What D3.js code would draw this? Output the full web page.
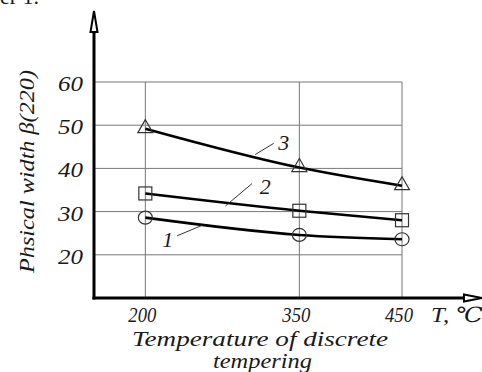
<!DOCTYPE html>
<html>
<head>
<meta charset="utf-8">
<script src="https://cdn.jsdelivr.net/npm/d3@7"></script>
<style>
  body { margin: 0; background: #fff; }
  svg { display: block; }
  svg text { font-family: "Liberation Serif", "DejaVu Serif", serif; font-style: italic; fill: #1a1a1a; }
  .grid line { stroke: #777; stroke-width: 1; }
  .tick-label { font-size: 21px; }
</style>
</head>
<body>
<div id="chart"></div>
<script>
// data
var temps = [200, 350, 450];
var curve1 = [28.6, 24.6, 23.6];   // circles
var curve2 = [34.2, 30.2, 28.0];   // squares
var curve3 = [49.2, 40.2, 36.0];   // triangles
var yTicks = [20, 30, 40, 50, 60];
var seriesNames = ["1", "2", "3"];
var markerTypes = ["circle", "square", "triangle"];

var width = 482, height = 372;

var x = d3.scaleLinear().domain([150, 450]).range([94, 402]);
var y = d3.scaleLinear().domain([10, 60]).range([298, 82]);

var svg = d3.select("#chart").append("svg")
    .attr("width", width)
    .attr("height", height);

// stretch a text to a given width (the source font is wide)
function fit(sel, w) {
    sel.attr("textLength", w).attr("lengthAdjust", "spacingAndGlyphs");
}

// cropped caption at the very top (only its lower edge shows)
svg.append("text")
    .attr("x", 0)
    .attr("y", 4)
    .style("font-style", "normal")
    .style("font-size", "22px")
    .text("er 1.");

// grid
var grid = svg.append("g").attr("class", "grid");
grid.selectAll(".h").data(yTicks).enter().append("line")
    .attr("x1", x(150)).attr("x2", x(450))
    .attr("y1", function (d) { return y(d); })
    .attr("y2", function (d) { return y(d); });
grid.selectAll(".v").data(temps).enter().append("line")
    .attr("x1", function (d) { return x(d); })
    .attr("x2", function (d) { return x(d); })
    .attr("y1", y(60)).attr("y2", y(10));

// axes with open arrow heads
svg.append("line")
    .attr("x1", x(150)).attr("x2", x(150))
    .attr("y1", y(10) + 1.5).attr("y2", 30)
    .attr("stroke", "#000").attr("stroke-width", 3);
svg.append("path")
    .attr("d", "M" + x(150) + ",11 L" + (x(150) - 3.5) + ",32 L" + (x(150) + 3.5) + ",32 Z")
    .attr("fill", "#fff").attr("stroke", "#000").attr("stroke-width", 2);

svg.append("line")
    .attr("x1", x(150) - 1.5).attr("x2", 466)
    .attr("y1", y(10)).attr("y2", y(10))
    .attr("stroke", "#000").attr("stroke-width", 3);
svg.append("path")
    .attr("d", "M482," + y(10) + " L464," + (y(10) - 3.5) + " L464," + (y(10) + 3.5) + " Z")
    .attr("fill", "#fff").attr("stroke", "#000").attr("stroke-width", 2);

// tick labels
svg.selectAll(".yl").data(yTicks).enter().append("text")
    .attr("class", "tick-label")
    .attr("x", 83)
    .attr("y", function (d) { return y(d) + 9; })
    .attr("text-anchor", "end")
    .call(fit, 25)
    .text(function (d) { return d; });

svg.selectAll(".xl").data(temps).enter().append("text")
    .attr("class", "tick-label")
    .attr("x", function (d) { return x(d) - 3; })
    .attr("y", 322)
    .attr("text-anchor", "middle")
    .call(fit, 28)
    .text(function (d) { return d; });

svg.append("text")
    .attr("class", "tick-label")
    .attr("x", 431)
    .attr("y", 322)
    .call(fit, 52)
    .text("T, \u2103");

// axis titles
svg.append("text")
    .attr("x", 132).attr("y", 346)
    .style("font-size", "21px")
    .call(fit, 256)
    .text("Temperature of discrete");
svg.append("text")
    .attr("x", 213).attr("y", 368)
    .style("font-size", "21px")
    .call(fit, 99)
    .text("tempering");

svg.append("text")
    .attr("transform", "translate(34,273) rotate(-90)")
    .style("font-size", "22px")
    .call(fit, 203)
    .text("Phsical width \u03b2(220)");

// curves
var series = [curve1, curve2, curve3];
var line = d3.line()
    .x(function (d, i) { return x(temps[i]); })
    .y(function (d) { return y(d); })
    .curve(d3.curveMonotoneX);

series.forEach(function (vals, k) {
    svg.append("path")
        .attr("d", line(vals))
        .attr("fill", "none")
        .attr("stroke", "#000")
        .attr("stroke-width", 2.6);

    var g = svg.append("g");
    vals.forEach(function (v, i) {
        var cx = x(temps[i]), cy = y(v);
        var m = markerTypes[k];
        if (m === "circle") {
            g.append("ellipse").attr("cx", cx).attr("cy", cy).attr("rx", 7).attr("ry", 6.5);
        } else if (m === "square") {
            g.append("rect").attr("x", cx - 6.5).attr("y", cy - 6.5).attr("width", 13).attr("height", 13);
        } else {
            g.append("path").attr("d", "M" + cx + "," + (cy - 9) + " L" + (cx - 7.5) + "," + (cy + 4) + " L" + (cx + 7.5) + "," + (cy + 4) + " Z");
        }
    });
    g.selectAll("*").attr("fill", "none").attr("stroke", "#333").attr("stroke-width", 1.2);
});

// curve numbers with leader lines (in data units)
var labelAt = [[216, 23.4], [311, 35.6], [329, 45.9]];
var leaders = [
    [[231, 24.4], [255, 26.8]],
    [[278, 31.3], [304, 36.5]],
    [[307, 43.2], [325, 45.8]]
];
seriesNames.forEach(function (name, k) {
    svg.append("line")
        .attr("x1", x(leaders[k][0][0])).attr("y1", y(leaders[k][0][1]))
        .attr("x2", x(leaders[k][1][0])).attr("y2", y(leaders[k][1][1]))
        .attr("stroke", "#333").attr("stroke-width", 1);
    svg.append("text")
        .attr("x", x(labelAt[k][0]) + 6)
        .attr("y", y(labelAt[k][1]) + 7)
        .attr("text-anchor", "middle")
        .style("font-size", "22px")
        .text(name);
});
</script>
</body>
</html>
